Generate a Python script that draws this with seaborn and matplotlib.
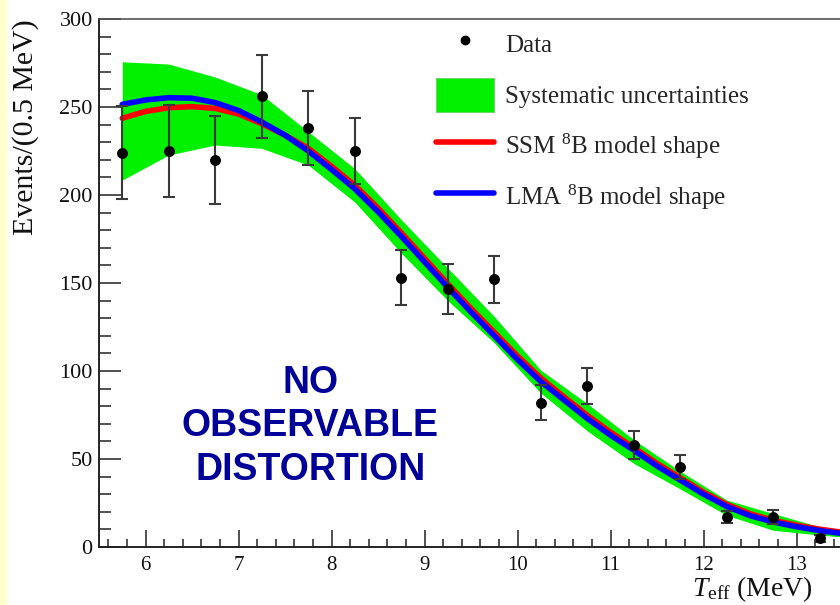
import matplotlib
matplotlib.use("Agg")
import matplotlib.pyplot as plt
import seaborn as sns
import pandas as pd
from matplotlib.lines import Line2D
from matplotlib.patches import Patch, Rectangle
from matplotlib.ticker import MultipleLocator

# Measured spectrum: bin centres (MeV), events per 0.5 MeV bin, errors
energy = [5.75, 6.25, 6.75, 7.25, 7.75, 8.25, 8.75, 9.25,
          9.75, 10.25, 10.75, 11.25, 11.75, 12.25, 12.75, 13.25]
counts = [224, 225, 220, 256, 238, 225, 153, 146.5,
          152, 82, 91.5, 58, 45.5, 17.2, 17.2, 4.9]
count_err = [26.5, 26, 25, 23.5, 21, 19, 15.5, 14.2,
             13.5, 10, 10, 8, 7, 3.5, 4, 2]

# Systematic uncertainty envelope
band_energy = [5.75, 6.25, 6.75, 7.25, 7.75, 8.25, 8.75, 9.25, 9.75,
               10.25, 10.75, 11.25, 11.75, 12.25, 12.75, 13.25, 13.75]
band_high = [275.7, 274.4, 267, 257, 236, 215, 186, 158.5, 131,
             100.5, 81.5, 61, 43, 26.7, 19, 11.5, 8.5]
band_low = [208.5, 222.7, 228.4, 226.5, 217, 196, 167, 140, 116,
            87.5, 66, 47.5, 33, 18, 9.5, 6.8, 4.5]

# Model shapes
model_energy = [5.75, 6.0, 6.25, 6.5, 6.75, 7.0, 7.25, 7.5, 7.75, 8.0, 8.25,
                8.5, 8.75, 9.0, 9.25, 9.5, 9.75, 10.0, 10.25, 10.5, 10.75,
                11.0, 11.25, 11.5, 11.75, 12.0, 12.25, 12.5, 12.75, 13.0,
                13.25, 13.5, 13.75]
lma_shape = [251.5, 254, 255.3, 255, 252.5, 248, 241.5, 234, 225, 214.5,
             203.5, 190.5, 176.5, 162, 147.5, 133.5, 120, 106.5, 94, 83.5,
             73, 63.5, 55, 46, 38, 30, 23, 17.8, 14.2, 11.5, 9.3, 7.6, 6.2]
ssm_shape = [243.6, 247.5, 249.6, 250.2, 249.2, 246, 240.5, 234, 226.5,
             216.3, 205.5, 192.5, 178.5, 164, 149.5, 135.5, 122, 108.5, 96,
             85.3, 74.8, 65.2, 56.5, 47.5, 39.3, 31.2, 24.2, 18.9, 15.2, 12.4,
             10.1, 8.3, 6.8]

x_ticks = [6, 7, 8, 9, 10, 11, 12, 13]
y_ticks = [0, 50, 100, 150, 200, 250, 300]

legend_labels = ["Data", "Systematic uncertainties",
                 "SSM $^{8}$B model shape", "LMA $^{8}$B model shape"]

GREEN = "#00f000"
RED = "#ff0000"
BLUE = "#0000ff"
TEXT_BLUE = "#000099"

sns.set_style("ticks")
plt.rcParams["font.family"] = ["Liberation Serif", "DejaVu Serif"]
plt.rcParams["mathtext.fontset"] = "custom"
plt.rcParams["mathtext.rm"] = "Liberation Serif"
plt.rcParams["mathtext.it"] = "Liberation Serif:italic"
plt.rcParams["mathtext.bf"] = "Liberation Serif:bold"

fig = plt.figure(figsize=(8.4, 6.05), dpi=100)
fig.patch.set_facecolor("white")
fig.patches.append(Rectangle((0, 0), 7 / 840, 1, transform=fig.transFigure,
                             facecolor="#ffffcc", edgecolor="none", zorder=0))

ax = fig.add_axes([99 / 840, 1 - 547 / 605, 741 / 840, 528 / 605])
ax.set_facecolor("white")

ax.fill_between(band_energy, band_low, band_high, color=GREEN, lw=0, zorder=1)

models = pd.DataFrame({"energy": model_energy, "ssm": ssm_shape, "lma": lma_shape})
sns.lineplot(data=models, x="energy", y="ssm", ax=ax, color=RED, lw=4,
             legend=False, zorder=2, sort=False)
sns.lineplot(data=models, x="energy", y="lma", ax=ax, color=BLUE, lw=4,
             legend=False, zorder=3, sort=False)

ax.errorbar(energy, counts, yerr=count_err, fmt="none", ecolor="#3a3a3a",
            elinewidth=1.5, capsize=4.3, capthick=1.5, zorder=4)
spectrum = pd.DataFrame({"energy": energy, "counts": counts})
sns.scatterplot(data=spectrum, x="energy", y="counts", ax=ax, color="black",
                s=62, edgecolor="black", linewidth=0, zorder=5, legend=False)

ax.set_xlim(5.5, 5.5 + 741 / 93)
ax.set_ylim(0, 300)
ax.set_xticks(x_ticks)
ax.set_yticks(y_ticks)
ax.xaxis.set_minor_locator(MultipleLocator(0.2))
ax.yaxis.set_minor_locator(MultipleLocator(10))

ax.tick_params(axis="both", which="both", direction="in", color="#222222",
               width=1.1, labelcolor="#111111")
ax.tick_params(axis="y", which="major", length=15.5, pad=4.5, labelsize=16)
ax.tick_params(axis="y", which="minor", length=8.5)
ax.tick_params(axis="x", which="major", length=12, pad=6.5, labelsize=15)
ax.tick_params(axis="x", which="minor", length=5.8)

ax.spines["right"].set_visible(False)
for side in ("left", "bottom"):
    ax.spines[side].set_color("#222222")
    ax.spines[side].set_linewidth(1.4)
ax.spines["top"].set_color("#555555")
ax.spines["top"].set_linewidth(1.2)

ax.set_ylabel("Events/(0.5 MeV)", fontsize=21.5, loc="top", color="#111111")
ax.yaxis.set_label_coords((39.5 - 99) / 741, 1.0)
ax.set_xlabel(r"$T_{\rm eff}$ (MeV)", fontsize=20, loc="right", color="#111111")
ax.xaxis.set_label_coords((813 - 99) / 741, (547 - 574) / 528)

ax.text(0.285, 0.229, "NO\nOBSERVABLE\nDISTORTION", transform=ax.transAxes,
        ha="center", va="center", fontsize=27, fontweight="bold",
        family=["Liberation Sans", "DejaVu Sans"], color=TEXT_BLUE,
        linespacing=1.27, zorder=6)

handles = [
    Line2D([], [], marker="o", color="black", linestyle="none", markersize=6),
    Patch(facecolor=GREEN, edgecolor="#66cc66", linewidth=0.6),
    Line2D([], [], color=RED, lw=4),
    Line2D([], [], color=BLUE, lw=4),
]
fig.legend(handles, legend_labels, loc="upper left",
           bbox_to_anchor=(436 / 840, 1 - 27 / 605), frameon=False,
           fontsize=18, handlelength=2.3, handleheight=1.72,
           handletextpad=0.45, labelspacing=0.68, borderpad=0,
           borderaxespad=0)

fig.savefig("out.png", dpi=100, facecolor=fig.get_facecolor())
